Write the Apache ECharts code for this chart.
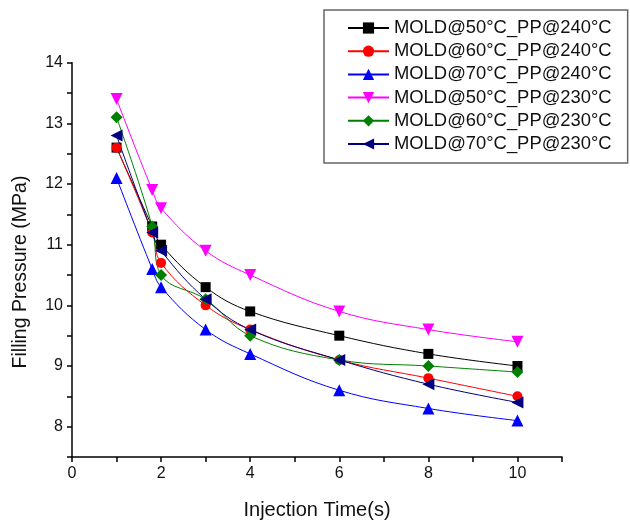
<!DOCTYPE html>
<html>
<head>
<meta charset="utf-8">
<title>Filling Pressure vs Injection Time</title>
<script src="https://cdn.jsdelivr.net/npm/echarts@6.0.0/dist/echarts.min.js"></script>
<style>
    html, body { margin: 0; padding: 0; background: #fff; }
    #chart { width: 630px; height: 520px; }
</style>
</head>
<body>
<div id="chart"></div>
<script>
// injection times (s) shared by every curve
var injectionTimes = [1, 1.8, 2, 3, 4, 6, 8, 10];

// filling pressure (MPa)
var mold50pp240 = [12.6, 11.3, 11.0, 10.3, 9.9, 9.5, 9.2, 9.0];
var mold60pp240 = [12.6, 11.2, 10.7, 10.0, 9.6, 9.1, 8.8, 8.5];
var mold70pp240 = [12.1, 10.6, 10.3, 9.6, 9.2, 8.6, 8.3, 8.1];
var mold50pp230 = [13.4, 11.9, 11.6, 10.9, 10.5, 9.9, 9.6, 9.4];
var mold60pp230 = [13.1, 11.3, 10.5, 10.1, 9.5, 9.1, 9.0, 8.9];
var mold70pp230 = [12.8, 11.2, 10.9, 10.1, 9.6, 9.1, 8.7, 8.4];

var seriesNames = [
    'MOLD@50°C_PP@240°C',
    'MOLD@60°C_PP@240°C',
    'MOLD@70°C_PP@240°C',
    'MOLD@50°C_PP@230°C',
    'MOLD@60°C_PP@230°C',
    'MOLD@70°C_PP@230°C'
];

var xTickLabels = ['0', '2', '4', '6', '8', '10'];
var yTickLabels = ['8', '9', '10', '11', '12', '13', '14'];

var fontFamily = 'Arial, "Liberation Sans", sans-serif';

var pairUp = function(values) {
    var out = [];
    for (var i = 0; i < values.length; i++) {
        out.push([injectionTimes[i], values[i]]);
    }
    return out;
};

var makeSeries = function(name, values, color, symbol, size, rotate) {
    return {
        name: name,
        type: 'line',
        smooth: 0.4,
        data: pairUp(values),
        symbol: symbol,
        symbolSize: size,
        symbolRotate: rotate || 0,
        showAllSymbol: true,
        itemStyle: { color: color, borderWidth: 0 },
        lineStyle: { color: color, width: 1 },
        emphasis: { disabled: true },
        z: 2
    };
};

var option = {
    animation: false,
    backgroundColor: '#fff',
    textStyle: { fontFamily: fontFamily },
    // fixed plot box; outerBounds off so the axis title does not shrink it
    grid: { left: 72, right: 68, top: 62.7, bottom: 63, containLabel: false, outerBoundsMode: 'none' },
    legend: {
        orient: 'vertical',
        left: 324,
        top: 10,
        padding: [9, 16, 10, 23],
        itemWidth: 41,
        itemHeight: 14,
        itemGap: 5.2,
        borderColor: '#666',
        borderWidth: 1.5,
        backgroundColor: '#fff',
        textStyle: { fontSize: 18.4, color: '#111', fontFamily: fontFamily },
        data: seriesNames
    },
    // y title placed as text so it can sit a little below the axis middle, as in the figure
    graphic: [{
        type: 'text',
        x: 21,
        y: 272,
        rotation: Math.PI / 2,
        style: {
            text: 'Filling Pressure (MPa)',
            font: '19.5px ' + fontFamily,
            fill: '#111',
            align: 'center',
            verticalAlign: 'middle'
        }
    }],
    xAxis: {
        type: 'value',
        min: 0,
        max: 11,
        interval: 1,
        name: 'Injection Time(s)',
        nameLocation: 'middle',
        nameGap: 43,
        nameTextStyle: { fontSize: 20, color: '#111' },
        axisLine: { onZero: false, lineStyle: { color: '#000', width: 1.5 } },
        axisTick: { show: true, inside: false, length: 5, lineStyle: { color: '#000', width: 1.5 } },
        axisLabel: {
            fontSize: 16,
            color: '#111',
            margin: 9,
            formatter: function(v) {
                var s = String(v);
                return xTickLabels.indexOf(s) !== -1 ? s : '';
            }
        },
        splitLine: { show: false }
    },
    yAxis: {
        type: 'value',
        min: 7.5,
        max: 14,
        interval: 0.5,
        axisLine: { onZero: false, lineStyle: { color: '#000', width: 1.5 } },
        axisTick: { show: true, inside: false, length: 5, lineStyle: { color: '#000', width: 1.5 } },
        axisLabel: {
            fontSize: 16,
            color: '#111',
            margin: 9,
            formatter: function(v) {
                var s = String(v);
                return yTickLabels.indexOf(s) !== -1 ? s : '';
            }
        },
        splitLine: { show: false }
    },
    series: [
        makeSeries(seriesNames[0], mold50pp240, '#000000', 'rect', 10),
        makeSeries(seriesNames[1], mold60pp240, '#ff0000', 'circle', 10),
        makeSeries(seriesNames[2], mold70pp240, '#0000ff', 'triangle', 12),
        makeSeries(seriesNames[3], mold50pp230, '#ff00ff', 'triangle', 12, 180),
        makeSeries(seriesNames[4], mold60pp230, '#008000', 'diamond', 12),
        makeSeries(seriesNames[5], mold70pp230, '#000080', 'triangle', 12, 90)
    ]
};

var chart = echarts.init(document.getElementById('chart'), null, { renderer: 'canvas' });
chart.setOption(option);
</script>
</body>
</html>
